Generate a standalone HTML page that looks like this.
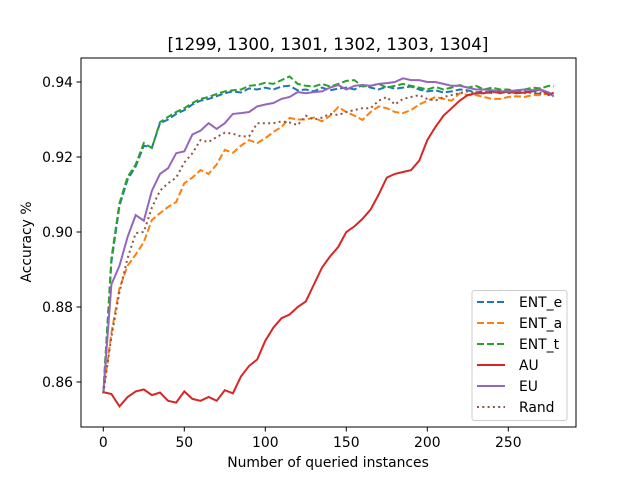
<!DOCTYPE html>
<html><head><meta charset="utf-8"><style>
body{margin:0;background:#fff}
svg text{font-family:"DejaVu Sans","Liberation Sans",sans-serif;fill:#000}
</style></head><body>
<svg id="chart" width="640" height="480" viewBox="0 0 640 480" xmlns="http://www.w3.org/2000/svg">
<rect width="640" height="480" fill="#fff"/>
<g id="plot"></g>
</svg>
<script>
const xs=[0,5,10,15,20,25,30,35,40,45,50,55,60,65,70,75,80,85,90,95,100,105,110,115,120,125,130,135,140,145,150,155,160,165,170,175,180,185,190,195,200,205,210,215,220,225,230,235,240,245,250,255,260,265,270,275,278];
const entE=[.857,.892,.907,.914,.9175,.923,.9225,.929,.930,.9315,.9325,.934,.935,.9355,.9362,.937,.9375,.9372,.9383,.938,.9385,.938,.9388,.939,.9378,.938,.9375,.9385,.9378,.9382,.9385,.938,.9392,.9385,.938,.9388,.9382,.9385,.9388,.938,.9375,.9378,.9372,.9375,.938,.9378,.9372,.9375,.937,.9376,.9372,.937,.9375,.937,.9368,.9372,.9364];
const entA=[.857,.873,.885,.891,.894,.8973,.9032,.905,.9067,.908,.913,.9145,.9165,.9155,.918,.9219,.9211,.923,.9245,.9237,.925,.9267,.928,.9304,.930,.930,.9305,.9295,.931,.9333,.932,.931,.9299,.932,.9335,.933,.932,.9317,.9325,.934,.935,.936,.9355,.935,.937,.9365,.9365,.936,.9355,.9355,.936,.9362,.936,.9365,.9365,.937,.9365];
const entT=[.857,.893,.9077,.9147,.918,.9237,.9224,.9293,.9307,.932,.933,.9344,.9355,.936,.9368,.9375,.9378,.938,.939,.9392,.9398,.9395,.9405,.9415,.9395,.939,.9388,.9395,.9388,.9395,.9403,.9405,.9388,.939,.9395,.9385,.939,.9395,.939,.9385,.938,.9387,.938,.9385,.9392,.9385,.939,.938,.9385,.938,.938,.9375,.938,.9385,.9383,.939,.9388];
const au=[.8573,.8568,.8535,.856,.8575,.858,.8565,.8572,.855,.8545,.8575,.8555,.855,.856,.855,.8578,.857,.8615,.8643,.866,.871,.8745,.877,.878,.880,.8815,.886,.8905,.8935,.896,.900,.9015,.9035,.906,.910,.9145,.9155,.916,.9165,.919,.9245,.928,.931,.933,.935,.9365,.937,.937,.9375,.937,.9375,.937,.9372,.9375,.938,.9365,.9372];
const eu=[.857,.886,.891,.8987,.9045,.903,.911,.9155,.917,.921,.9215,.926,.927,.929,.9275,.929,.9315,.9317,.932,.9335,.934,.9344,.9355,.936,.9373,.937,.9373,.9375,.9385,.9392,.938,.939,.9392,.939,.9395,.9397,.940,.941,.9405,.9405,.940,.940,.9395,.939,.939,.9385,.938,.938,.9378,.9375,.9375,.9378,.938,.9378,.938,.9372,.9361];
const rand=[.857,.872,.884,.893,.8997,.9,.9065,.911,.913,.9145,.9185,.921,.9245,.924,.9253,.9265,.9262,.9255,.9255,.929,.929,.929,.9295,.9292,.9285,.931,.930,.9305,.9315,.9312,.932,.9325,.933,.933,.935,.936,.934,.9355,.936,.9365,.9355,.935,.936,.9365,.937,.9375,.937,.937,.9372,.9375,.937,.9372,.937,.9375,.9372,.937,.9365];
const xTicks=[0,50,100,150,200,250];
const yTicks=[0.86,0.88,0.90,0.92,0.94];
const names=["ENT_e","ENT_a","ENT_t","AU","EU","Rand"];

const NS="http://www.w3.org/2000/svg";
const g=document.getElementById('plot');
const L=81,R=576,T=58,B=427;
function sx(v){return 103.3+(v-0)*(427.3-103.3)/200;}
function sy(v){return 382-(v-0.86)*(382-82)/0.08;}
function mk(tag,attrs){const e=document.createElementNS(NS,tag);for(const k in attrs)e.setAttribute(k,attrs[k]);g.appendChild(e);return e;}

const series=[
 {d:entE,c:"#1f77b4",dash:"7,3",n:"ent-e-line"},
 {d:entA,c:"#ff7f0e",dash:"7,3",n:"ent-a-line"},
 {d:entT,c:"#2ca02c",dash:"7,3",n:"ent-t-line"},
 {d:au,c:"#d62728",dash:"",n:"au-line"},
 {d:eu,c:"#9467bd",dash:"",n:"eu-line"},
 {d:rand,c:"#8c564b",dash:"2,3.3",n:"rand-line"}];
series.forEach(s=>{
  const pts=xs.map((x,i)=>sx(x).toFixed(1)+","+sy(s.d[i]).toFixed(1)).join(" ");
  const p=mk('polyline',{points:pts,fill:"none",stroke:s.c,"stroke-width":2});
  if(s.dash)p.setAttribute('stroke-dasharray',s.dash);
  
  
});

const frame=mk('rect',{x:L,y:T,width:R-L,height:B-T,fill:"none",stroke:"#000","stroke-width":1});



xTicks.forEach(t=>{
  const x=sx(t);
  const tk=mk('line',{x1:x,x2:x,y1:B,y2:B+4.5,stroke:"#000","stroke-width":1});
  
  
  const tx=mk('text',{x:x,y:B+20,"text-anchor":"middle","font-size":"13.9"});
  tx.textContent=t;
  
  
});
yTicks.forEach(t=>{
  const y=sy(t);
  const tk=mk('line',{x1:L-4.5,x2:L,y1:y,y2:y,stroke:"#000","stroke-width":1});
  
  
  const tx=mk('text',{x:L-8,y:y+5,"text-anchor":"end","font-size":"13.9"});
  tx.textContent=t.toFixed(2);
  
  
});

const title=mk('text',{x:328,y:50,"text-anchor":"middle","font-size":"16.7"});
title.textContent="[1299, 1300, 1301, 1302, 1303, 1304]";


const xl=mk('text',{x:328,y:467,"text-anchor":"middle","font-size":"13.9"});
xl.textContent="Number of queried instances";


const yl=mk('text',{x:31,y:242,"text-anchor":"middle","font-size":"13.9",transform:"rotate(-90 31 242)"});
yl.textContent="Accuracy %";



const lb=mk('rect',{x:472,y:290.5,width:95,height:130,rx:2.5,fill:"#fff","fill-opacity":0.8,stroke:"#ccc","stroke-width":1});


names.forEach((n,i)=>{
  const y=302+i*21;
  const s=series[i];
  const ln=mk('line',{x1:477,x2:505,y1:y,y2:y,stroke:s.c,"stroke-width":2});
  if(s.dash)ln.setAttribute('stroke-dasharray',s.dash);
  
  
  const tx=mk('text',{x:519,y:y+5,"font-size":"13.9"});
  tx.textContent=n;
  
  
});
</script>
</body></html>
